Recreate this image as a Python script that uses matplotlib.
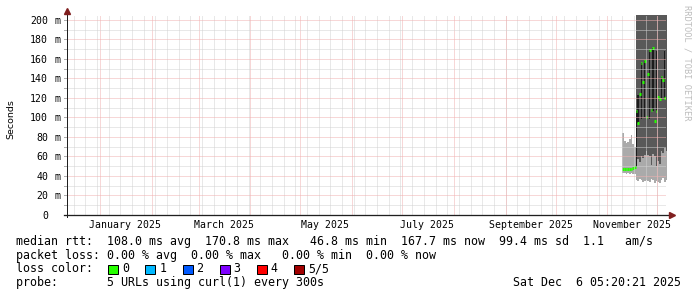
import matplotlib
matplotlib.use("Agg")
import matplotlib.pyplot as plt
import matplotlib.dates as mdates
from matplotlib.patches import Rectangle
import numpy as np
import pandas as pd

W, H = 697, 297
nan = np.nan

# graph window (one year view ending at the print time)
t_end = pd.Timestamp("2025-12-06 05:20:21")
t_start = t_end - pd.Timedelta(days=359.2)

# daily bins holding data
days = pd.date_range("2025-11-10", "2025-12-06", freq="D")

# median rtt (ms)
median = [47.5, 47.5, 47.0, 47.5, 47.5, 47.5, 48.0, 49.5,
          107.0, 94.4, 124.0, 156.0, 136.0, 158.0, 100.0, 145.0, 169.0, 108.0,
          170.8, 96.0, 107.0, 121.0, 119.0, 141.0, 138.0, 120.0, 167.7]
# lowest ping
smoke_lo = [43, 43, 42, 43, 42, 43, 42, 42,
            36, 35, 37, 36, 34, 35, 36, 35, 34, 37, 36, 33, 35, 34, 33, 36, 38, 34, 36]
# top of the light smoke
smoke_mid = [84, 76, 74, 75, 78, 82, 73, 70,
             55, 57, 54, 60, 58, 62, 66, 61, 60, 51, 63, 60, 50, 55, 52, 66, 64, 69, 66]
# top of the dark smoke (goes past the top of the graph)
smoke_top = [nan, nan, nan, nan, nan, nan, nan, nan,
             230, 230, 230, 230, 230, 230, 230, 230, 230, 230, 230, 230, 230, 230, 230,
             230, 230, 230, 230]
# darkest band near the median
core_lo = [nan, nan, nan, nan, nan, nan, nan, nan,
           49, 94, nan, 98, nan, 100, nan, nan, 98, nan, 107, nan, 107, nan, nan, 120, nan, 120, nan]
core_hi = [nan, nan, nan, nan, nan, nan, nan, nan,
           107, 123, nan, 156, nan, 158, nan, nan, 169, nan, 171, nan, 168, nan, nan, 141, nan, 168, nan]

month_labels = ["January 2025", "March 2025", "May 2025", "July 2025",
                "September 2025", "November 2025"]
label_months = ["2025-01-01", "2025-03-01", "2025-05-01", "2025-07-01",
                "2025-09-01", "2025-11-01"]
y_ticks = [0, 20, 40, 60, 80, 100, 120, 140, 160, 180, 200]

rtt_stats = [108.0, 170.8, 46.8, 167.7, 99.4]
loss_stats = [0.00, 0.00, 0.00, 0.00]
loss_names = ["0", "1", "2", "3", "4", "5/5"]
loss_colors = ["#26ff00", "#00b8ff", "#0059ff", "#7e00ff", "#ff0000", "#a10000"]

grid_col = "#d2d2d2"
mgrid_col = "#f0b0b0"
arrow_col = (0.5, 0.12, 0.12)
axis_col = (0.12, 0.12, 0.12)
mono = "DejaVu Sans Mono"
px = 0.72  # one pixel in points

fig = plt.figure(figsize=(W / 100, H / 100), dpi=100, facecolor="white")
ax = fig.add_axes([67 / W, 82 / H, 599 / W, 200 / H])
ax.set_facecolor("white")
ax.set_xlim(t_start, t_end)
ax.set_ylim(0, 205)
for s in ax.spines.values():
    s.set_visible(False)
ax.set_xticks([])
ax.set_yticks([])

# smoke
x = mdates.date2num(days)
x_edges = np.append(x, x[-1] + 1)
def step(v):
    return np.append(np.asarray(v, float), float(v[-1]))

lo, mid, top = step(smoke_lo), step(smoke_mid), step(smoke_top)
ax.fill_between(x_edges, lo, mid, step="post", color="#aaaaaa", lw=0, zorder=2)
ax.fill_between(x_edges, mid, top, step="post", color="#595959", lw=0, zorder=2)
c_lo = np.asarray(core_lo, float)
c_hi = np.asarray(core_hi, float)
ok = ~np.isnan(c_lo)
ax.bar(x[ok], c_hi[ok] - c_lo[ok], bottom=c_lo[ok], width=0.8, align="edge",
       color="#1c1c1c", lw=0, zorder=2)
ax.hlines(median, x, x + 1, colors=loss_colors[0], lw=2.2, zorder=3)

# grid on top of the graph, as rrdtool does
gkw = dict(lw=px, ls=(0, (1, 1)), zorder=4)
for w in pd.date_range("2024-12-16", "2025-12-06", freq="7D"):
    ax.axvline(w, color=grid_col, **gkw)
for m in pd.date_range("2025-01-01", "2025-12-01", freq="MS"):
    ax.axvline(m, color=mgrid_col, **gkw)
for v in range(10, 205, 10):
    c = mgrid_col if v % 20 == 0 else grid_col
    ax.axhline(v, color=c, **gkw)
    ax.plot([-3 / 599, 0], [v, v], color="#b0b0b0", lw=px,
            transform=ax.get_yaxis_transform(), clip_on=False)

# axes with arrows
ax.plot([-3 / 599, 603 / 599], [0, 0], color=axis_col, lw=1.3 * px,
        transform=ax.transAxes, clip_on=False, zorder=5)
ax.plot([0, 0], [-2 / 200, 204 / 200], color=axis_col, lw=px,
        transform=ax.transAxes, clip_on=False, zorder=5)
ax.plot([605 / 599], [0], marker=">", ms=4.5, color=arrow_col, mec=arrow_col,
        transform=ax.transAxes, clip_on=False, zorder=6)
ax.plot([0], [204 / 200], marker="^", ms=4.5, color=arrow_col, mec=arrow_col,
        transform=ax.transAxes, clip_on=False, zorder=6)

# month labels centred half a month after the start
for lab, m in zip(month_labels, label_months):
    ax.text(pd.Timestamp(m) + pd.Timedelta(days=15), -13 / 200, lab,
            transform=ax.get_xaxis_transform(), ha="center", va="baseline",
            family=mono, fontsize=7.1)

# y labels: number column then unit
for v in y_ticks:
    ax.text(-18.8 / 599, v, str(v), transform=ax.get_yaxis_transform(),
            ha="right", va="center_baseline", family=mono, fontsize=7.1)
    if v:
        ax.text(-12.9 / 599, v, "m", transform=ax.get_yaxis_transform(),
                ha="left", va="center_baseline", family=mono, fontsize=7.1)

fig.text(11 / W, 1 - 119 / H, "Seconds", rotation=90, ha="center", va="center",
         fontsize=6.8)
fig.text(687.5 / W, 1 - 5 / H, "RRDTOOL / TOBI OETIKER", rotation=270,
         ha="center", va="top", family=mono, fontsize=6.2, color="#bdbdbd")

# legend block
line1 = ("median rtt:  %.1f ms avg  %.1f ms max   %.1f ms min  %.1f ms now  "
         "%.1f ms sd  1.1   am/s" % tuple(rtt_stats))
line2 = "packet loss: %.2f %% avg  %.2f %% max   %.2f %% min  %.2f %% now" % tuple(loss_stats)
base = [245, 258.7, 272.4, 286]
fs = 8.4
fig.text(15.5 / W, 1 - base[0] / H, line1, family=mono, fontsize=fs, va="baseline")
fig.text(15.5 / W, 1 - base[1] / H, line2, family=mono, fontsize=fs, va="baseline")
fig.text(15.5 / W, 1 - base[2] / H, "loss color:", family=mono, fontsize=fs, va="baseline")
for i, (name, col) in enumerate(zip(loss_names, loss_colors)):
    bx = 108.3 + i * 37.15
    fig.add_artist(Rectangle((bx / W, 1 - 274 / H), 10 / W, 9 / H, facecolor=col,
                             edgecolor="black", lw=px, transform=fig.transFigure))
    fig.text((bx + 14) / W, 1 - base[2] / H, name, family=mono, fontsize=fs,
             va="baseline")
fig.text(15.5 / W, 1 - base[3] / H, "probe:       5 URLs using curl(1) every 300s",
         family=mono, fontsize=fs, va="baseline")
fig.text(513 / W, 1 - base[3] / H, "Sat Dec  6 05:20:21 2025", family=mono,
         fontsize=fs, va="baseline")

fig.savefig("out.png", dpi=100, facecolor="white")
